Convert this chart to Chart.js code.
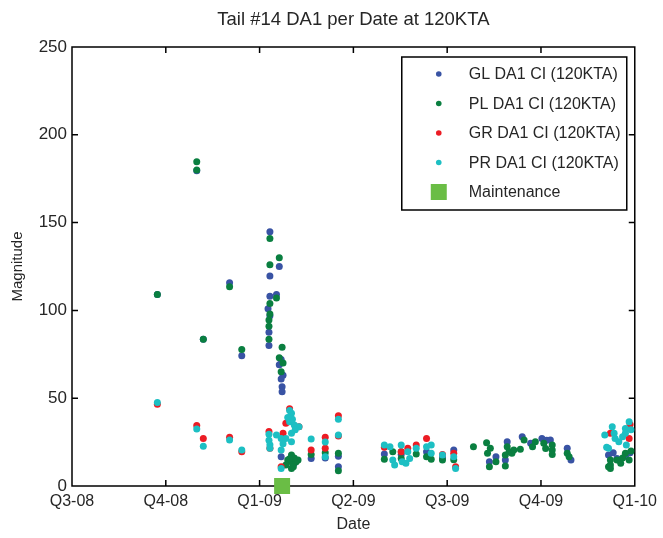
<!DOCTYPE html>
<html>
<head>
<meta charset="utf-8">
<script src="https://cdn.jsdelivr.net/npm/chart.js@4/dist/chart.umd.min.js"></script>
<style>
  body { margin: 0; background: #fff; }
</style>
</head>
<body>
<canvas id="tailChart" width="663" height="538"></canvas>
<script>
// x = quarters since Q3-08 (0 = Q3-08 ... 6 = Q1-10), y = magnitude
var quarterLabels = ["Q3-08", "Q4-08", "Q1-09", "Q2-09", "Q3-09", "Q4-09", "Q1-10"];
var yTicks = [0, 50, 100, 150, 200, 250];

var glPoints = [
    [0.91,109],[1.33,179.5],[1.40,83.5],[1.68,115.8],[1.81,74.2],
    [2.11,144.8],[2.21,125],[2.11,119.6],[2.11,108],[2.18,109],[2.09,101],[2.11,97],[2.10,87.5],[2.10,80],
    [2.23,72],[2.21,69],[2.25,63],[2.23,61],[2.24,56.5],[2.24,53.7],
    [2.23,16.7],[2.32,15],[2.37,13],[2.55,15.7],[2.70,16],[2.84,17],[2.84,11],
    [3.33,18.2],[3.51,18],[3.78,19.5],[3.95,16],[4.07,20.5],[4.45,13.8],[4.52,16.7],[4.64,25.2],[4.62,14.8],
    [4.80,28],[4.89,24.3],[5.01,27],[5.06,26],[5.10,26.2],[5.28,21.5],[5.32,14.8],
    [5.72,17.7],[5.81,15.7],[5.90,17],[5.77,19],[5.95,19]
];
var plPoints = [
    [0.91,109],[1.33,184.7],[1.33,180],[1.40,83.5],[1.68,113.5],[1.81,77.8],
    [2.11,141],[2.21,130],[2.11,126],[2.18,107],[2.11,104],[2.11,98],[2.10,94.5],[2.10,91],[2.10,83.5],
    [2.24,79],[2.21,73],[2.25,70],[2.23,65],
    [2.34,17.6],[2.30,14.8],[2.35,12.9],[2.39,13.8],[2.34,10],[2.41,14.8],[2.28,12],[2.37,16],[2.32,15.5],[2.36,11],
    [2.55,18],[2.70,19],[2.84,18.6],[2.84,8.7],
    [3.33,15.2],[3.42,19.5],[3.51,15.7],[3.51,19.5],[3.67,18.2],[3.78,16.7],[3.83,15.2],[3.95,14.8],[4.07,15],
    [4.28,22.4],[4.42,24.7],[4.46,21.5],[4.43,18.6],[4.45,11],[4.52,13.8],[4.64,22.4],[4.66,19.5],[4.69,18.6],
    [4.62,17.7],[4.62,11.4],[4.71,20.5],[4.78,20.9],[4.82,26.2],[4.91,22.4],[4.94,25.2],[5.03,24.3],[5.05,21.4],
    [5.12,23.3],[5.12,20.5],[5.12,18],[5.28,18.6],[5.30,16.7],
    [5.74,14.8],[5.74,12],[5.74,10],[5.81,14.8],[5.85,12.9],[5.90,18.6],[5.94,14.8],[5.72,11],[5.96,20],[5.87,16]
];
var grPoints = [
    [0.91,46.5],[1.33,34.4],[1.40,27],[1.68,27.7],[1.81,19.5],
    [2.10,31],[2.11,21.5],[2.25,30],[2.23,11],[2.32,44],[2.28,35.7],[2.42,33.8],[2.55,20.5],
    [2.70,27.7],[2.70,21.5],[2.84,40],[2.84,28.5],
    [3.33,22],[3.51,19.5],[3.58,21.5],[3.67,23.3],[3.78,27],[3.95,18],[4.07,18.6],[4.09,11],
    [5.74,30],[5.95,35],[5.94,27]
];
var prPoints = [
    [0.91,47.6],[1.33,32.5],[1.40,22.6],[1.68,26.2],[1.81,20.5],
    [2.10,29.5],[2.10,26],[2.11,23.5],[2.11,21.5],[2.18,29],[2.23,27],[2.23,20.5],[2.23,10],
    [2.32,43],[2.34,41.4],[2.32,36.6],[2.37,34.7],[2.42,33.8],[2.34,30],[2.34,25.2],[2.28,27],[2.35,38],
    [2.30,39],[2.38,32],[2.25,24],
    [2.55,26.7],[2.70,25],[2.70,16.7],[2.84,38],[2.84,29],
    [3.33,23.3],[3.39,22.4],[3.42,14.8],[3.44,12],[3.51,23.3],[3.52,13.8],[3.56,13],[3.58,19.5],[3.60,15.7],
    [3.67,21.5],[3.78,22.4],[3.83,23.3],[3.83,18.6],[3.95,17.6],[4.07,16.7],[4.09,10],
    [5.72,21.5],[5.76,33.8],[5.78,30],[5.79,27],[5.83,25.2],[5.87,28],[5.90,32.8],[5.90,30],[5.91,23.3],
    [5.94,36.6],[5.96,32],[5.68,29],[5.70,22]
];
var maintenancePoints = [[2.24, 0]];

var seriesNames = ["GL DA1 CI (120KTA)", "PL DA1 CI (120KTA)", "GR DA1 CI (120KTA)", "PR DA1 CI (120KTA)", "Maintenance"];
var seriesColors = ["#3953A4", "#0A7F40", "#EC1C24", "#1DBFC3", "#6ABD45"];

var fontFamily = "'Liberation Sans', Arial, sans-serif";
var textColor = "#262626";

toXY = (pts) => pts.map(p => ({ x: p[0], y: p[1] }));

// box round the plot with inward ticks, like the original
var frameTicks = {
    id: 'frameTicks',
    beforeDatasetsDraw(chart) {
        var ctx = chart.ctx;
        var a = chart.chartArea;
        var xs = chart.scales.x, ys = chart.scales.y;
        ctx.save();
        ctx.strokeStyle = "#000";
        ctx.lineWidth = 1.5;
        ctx.strokeRect(a.left, a.top, a.right - a.left, a.bottom - a.top);
        ctx.beginPath();
        for (var i = 1; i < quarterLabels.length - 1; i++) {
            var px = xs.getPixelForValue(i);
            ctx.moveTo(px, a.bottom); ctx.lineTo(px, a.bottom - 6);
            ctx.moveTo(px, a.top); ctx.lineTo(px, a.top + 6);
        }
        for (var j = 1; j < yTicks.length - 1; j++) {
            var py = ys.getPixelForValue(yTicks[j]);
            ctx.moveTo(a.left, py); ctx.lineTo(a.left + 6, py);
            ctx.moveTo(a.right, py); ctx.lineTo(a.right - 6, py);
        }
        ctx.stroke();
        ctx.restore();
    },
    afterDatasetsDraw(chart) {
        // legend box in the upper right corner
        var ctx = chart.ctx;
        var a = chart.chartArea;
        var w = 225, h = 153;
        var left = a.right - 8 - w, top = a.top + 10;
        ctx.save();
        ctx.fillStyle = "#fff";
        ctx.fillRect(left, top, w, h);
        ctx.strokeStyle = "#000";
        ctx.lineWidth = 1.5;
        ctx.strokeRect(left, top, w, h);
        ctx.font = "16px " + fontFamily;
        ctx.textBaseline = "middle";
        for (var k = 0; k < seriesNames.length; k++) {
            var cy = top + 17 + k * 29.5;
            ctx.fillStyle = seriesColors[k];
            if (k < 4) {
                ctx.beginPath();
                ctx.arc(left + 37, cy, 2.8, 0, Math.PI * 2);
                ctx.fill();
            } else {
                ctx.fillRect(left + 29, cy - 8, 16, 16);
            }
            ctx.fillStyle = textColor;
            ctx.fillText(seriesNames[k], left + 67, cy + 1);
        }
        ctx.restore();
    }
};

var ctxS = document.getElementById("tailChart").getContext('2d');
var tailChart = new Chart(ctxS, {
    type: 'scatter',
    data: {
        datasets: [
            { label: seriesNames[0], data: toXY(glPoints), backgroundColor: seriesColors[0], order: 3 },
            { label: seriesNames[1], data: toXY(plPoints), backgroundColor: seriesColors[1], order: 2 },
            { label: seriesNames[2], data: toXY(grPoints), backgroundColor: seriesColors[2], order: 1 },
            { label: seriesNames[3], data: toXY(prPoints), backgroundColor: seriesColors[3], order: 0 },
            { label: seriesNames[4], data: toXY(maintenancePoints), backgroundColor: seriesColors[4],
              pointStyle: 'rect', pointRadius: 11.3, clip: false, order: -1 }
        ]
    },
    options: {
        responsive: false,
        animation: false,
        devicePixelRatio: 1,
        layout: { padding: { top: 0, right: 27, bottom: 0, left: 0 } },
        elements: { point: { radius: 3.5, borderWidth: 0, hoverRadius: 3.5 } },
        plugins: {
            legend: { display: false },
            tooltip: { enabled: false },
            title: {
                display: true,
                fullSize: false,
                text: "Tail #14 DA1 per Date at 120KTA",
                color: textColor,
                font: { family: fontFamily, size: 18.5, weight: 'normal' },
                padding: { top: 9, bottom: 15.8 }
            }
        },
        scales: {
            x: {
                type: 'linear',
                min: 0,
                max: 6,
                afterFit: (scale) => { scale.height = 52; },
                grid: { display: false, drawTicks: false },
                border: { display: false },
                ticks: {
                    stepSize: 1,
                    padding: 6,
                    color: textColor,
                    font: { family: fontFamily, size: 16 },
                    callback: (v) => quarterLabels[v]
                },
                title: {
                    display: true,
                    text: "Date",
                    color: textColor,
                    font: { family: fontFamily, size: 16 },
                    padding: { top: 0, bottom: 3.4 }
                }
            },
            y: {
                min: 0,
                max: 250,
                afterFit: (scale) => { scale.width = 72; },
                grid: { display: false, drawTicks: false },
                border: { display: false },
                ticks: {
                    stepSize: 50,
                    padding: 5,
                    color: textColor,
                    font: { family: fontFamily, size: 17 }
                },
                title: {
                    display: true,
                    text: "Magnitude",
                    color: textColor,
                    font: { family: fontFamily, size: 15 },
                    padding: { top: 9, bottom: 0 }
                }
            }
        }
    },
    plugins: [frameTicks]
});
</script>
</body>
</html>
